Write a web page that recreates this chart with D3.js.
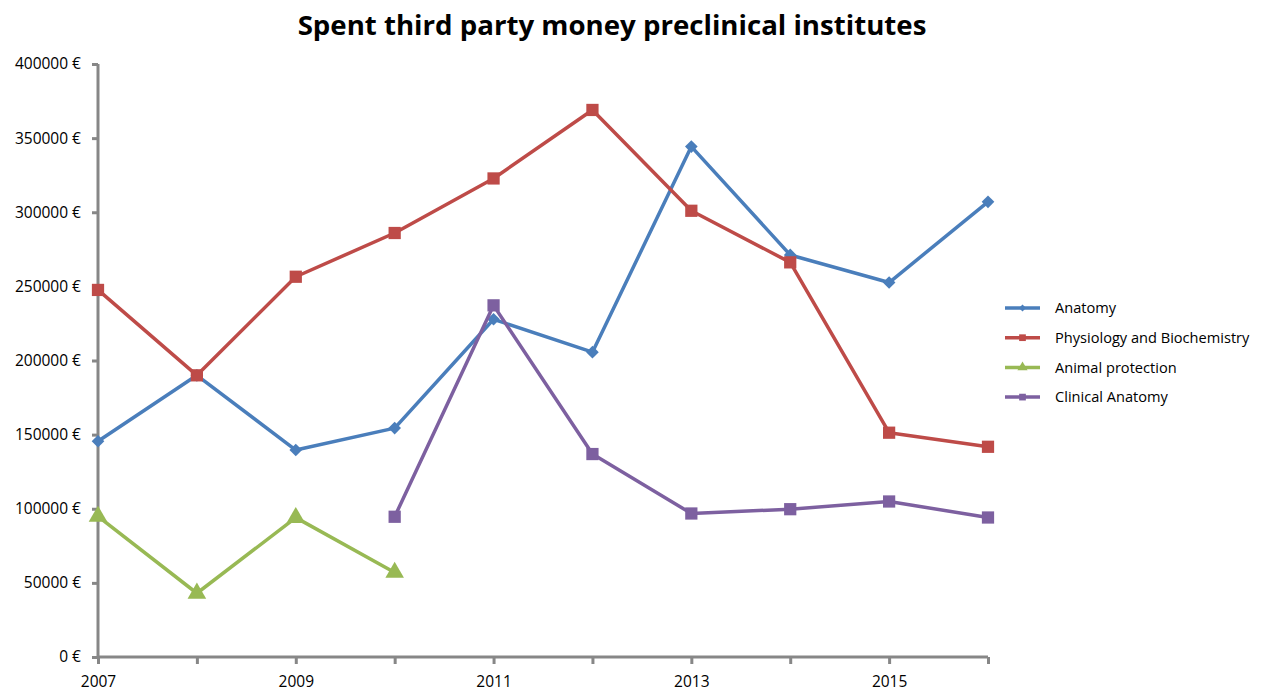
<!DOCTYPE html>
<html>
<head>
<meta charset="utf-8">
<script src="https://cdn.jsdelivr.net/npm/d3@7"></script>
<style>
    body { margin: 0; background: #fff; }
    svg { display: block; font-family: "Open Sans", "Lato", sans-serif; }
</style>
</head>
<body>
<svg id="chart" width="1266" height="693"></svg>
<script>
// Data.
const years = [2007, 2008, 2009, 2010, 2011, 2012, 2013, 2014, 2015, 2016];
const yTicks = [0, 50000, 100000, 150000, 200000, 250000, 300000, 350000, 400000];
const xLabelYears = [2007, 2009, 2011, 2013, 2015];

const anatomy = [145500, 190000, 139600, 154400, 227800, 205600, 344300, 271200, 252600, 307000];
const physiology = [247600, 190000, 256500, 286000, 322800, 369000, 301000, 266200, 151300, 141800];
const animalProtection = [94800, 43000, 94000, 57000, null, null, null, null, null, null];
const clinicalAnatomy = [null, null, null, 94600, 237200, 136900, 96800, 99700, 104900, 94100];

const seriesNames = ["Anatomy", "Physiology and Biochemistry", "Animal protection", "Clinical Anatomy"];
const seriesColors = ["#4a7ebb", "#be4b48", "#98b954", "#7d60a0"];
const seriesSymbols = [d3.symbolSquare, d3.symbolSquare, d3.symbolTriangle, d3.symbolSquare];
const seriesRotate = [45, 0, 0, 0];
const seriesValues = [anatomy, physiology, animalProtection, clinicalAnatomy];

const svg = d3.select("#chart");
const font = '"Open Sans", "Lato", sans-serif';

// Plot area.
const plotLeft = 98, plotRight = 988, plotTop = 64, plotBottom = 657;

const x = d3.scaleLinear().domain([2007, 2016]).range([plotLeft, plotRight]);
const y = d3.scaleLinear().domain([0, 400000]).range([plotBottom, plotTop]);

// Title, fitted to the reference width.
const title = svg.append("text")
    .attr("x", 612)
    .attr("y", 35)
    .attr("text-anchor", "middle")
    .attr("font-size", 28)
    .attr("font-weight", "bold")
    .attr("fill", "#000")
    .text("Spent third party money preclinical institutes");
const tw = title.node().getComputedTextLength();
if (tw > 0) title.attr("font-size", 28 * 629 / tw);

// Y axis.
const yAxis = svg.append("g")
    .attr("transform", `translate(${plotLeft},0)`)
    .call(d3.axisLeft(y)
        .tickValues(yTicks)
        .tickSize(6)
        .tickPadding(11)
        .tickFormat((d) => d + " €"));

// X axis: ticks every year, labels every other year.
const xAxis = svg.append("g")
    .attr("transform", `translate(0,${plotBottom})`)
    .call(d3.axisBottom(x)
        .tickValues(years)
        .tickSize(7)
        .tickPadding(12)
        .tickFormat((d) => (xLabelYears.includes(d) ? String(d) : "")));

[xAxis, yAxis].forEach((ax) => {
    ax.attr("font-family", font).attr("font-size", 15.5);
    ax.selectAll("text").attr("fill", "#000");
});

svg.selectAll(".domain, .tick line")
    .attr("stroke", "#878787")
    .attr("stroke-width", 3);
yAxis.select(".domain").attr("d", `M0,${plotTop}V${plotBottom}`);
xAxis.select(".domain").attr("d", `M${plotLeft},0H${plotRight}`);

// Lines and markers.
const line = d3.line()
    .defined((d) => d.v !== null)
    .x((d) => x(d.year))
    .y((d) => y(d.v));

const markerSize = [80, 150, 150, 150];

seriesValues.forEach((vals, i) => {
    const pts = years.map((year, j) => ({ year, v: vals[j] }));
    svg.append("path")
        .datum(pts)
        .attr("fill", "none")
        .attr("stroke", seriesColors[i])
        .attr("stroke-width", 3.5)
        .attr("stroke-linejoin", "round")
        .attr("d", line);

    svg.append("g")
        .selectAll("path")
        .data(pts.filter((d) => d.v !== null))
        .join("path")
        .attr("transform", (d) => `translate(${x(d.year)},${y(d.v)}) rotate(${seriesRotate[i]})`)
        .attr("d", d3.symbol(seriesSymbols[i], markerSize[i]))
        .attr("fill", seriesColors[i]);
});

// Legend.
const legend = svg.append("g").attr("transform", "translate(1005,308)");
seriesNames.forEach((name, i) => {
    const g = legend.append("g").attr("transform", `translate(0,${i * 29.7})`);
    g.append("line")
        .attr("x1", 0).attr("x2", 35)
        .attr("stroke", seriesColors[i])
        .attr("stroke-width", 3.5);
    g.append("path")
        .attr("transform", `translate(17.5,0) rotate(${seriesRotate[i]})`)
        .attr("d", d3.symbol(seriesSymbols[i], i === 0 ? 25 : 45))
        .attr("fill", seriesColors[i]);
    g.append("text")
        .attr("x", 50)
        .attr("dy", "0.35em")
        .attr("font-size", 14.6)
        .attr("fill", "#000")
        .text(name);
});
</script>
</body>
</html>
